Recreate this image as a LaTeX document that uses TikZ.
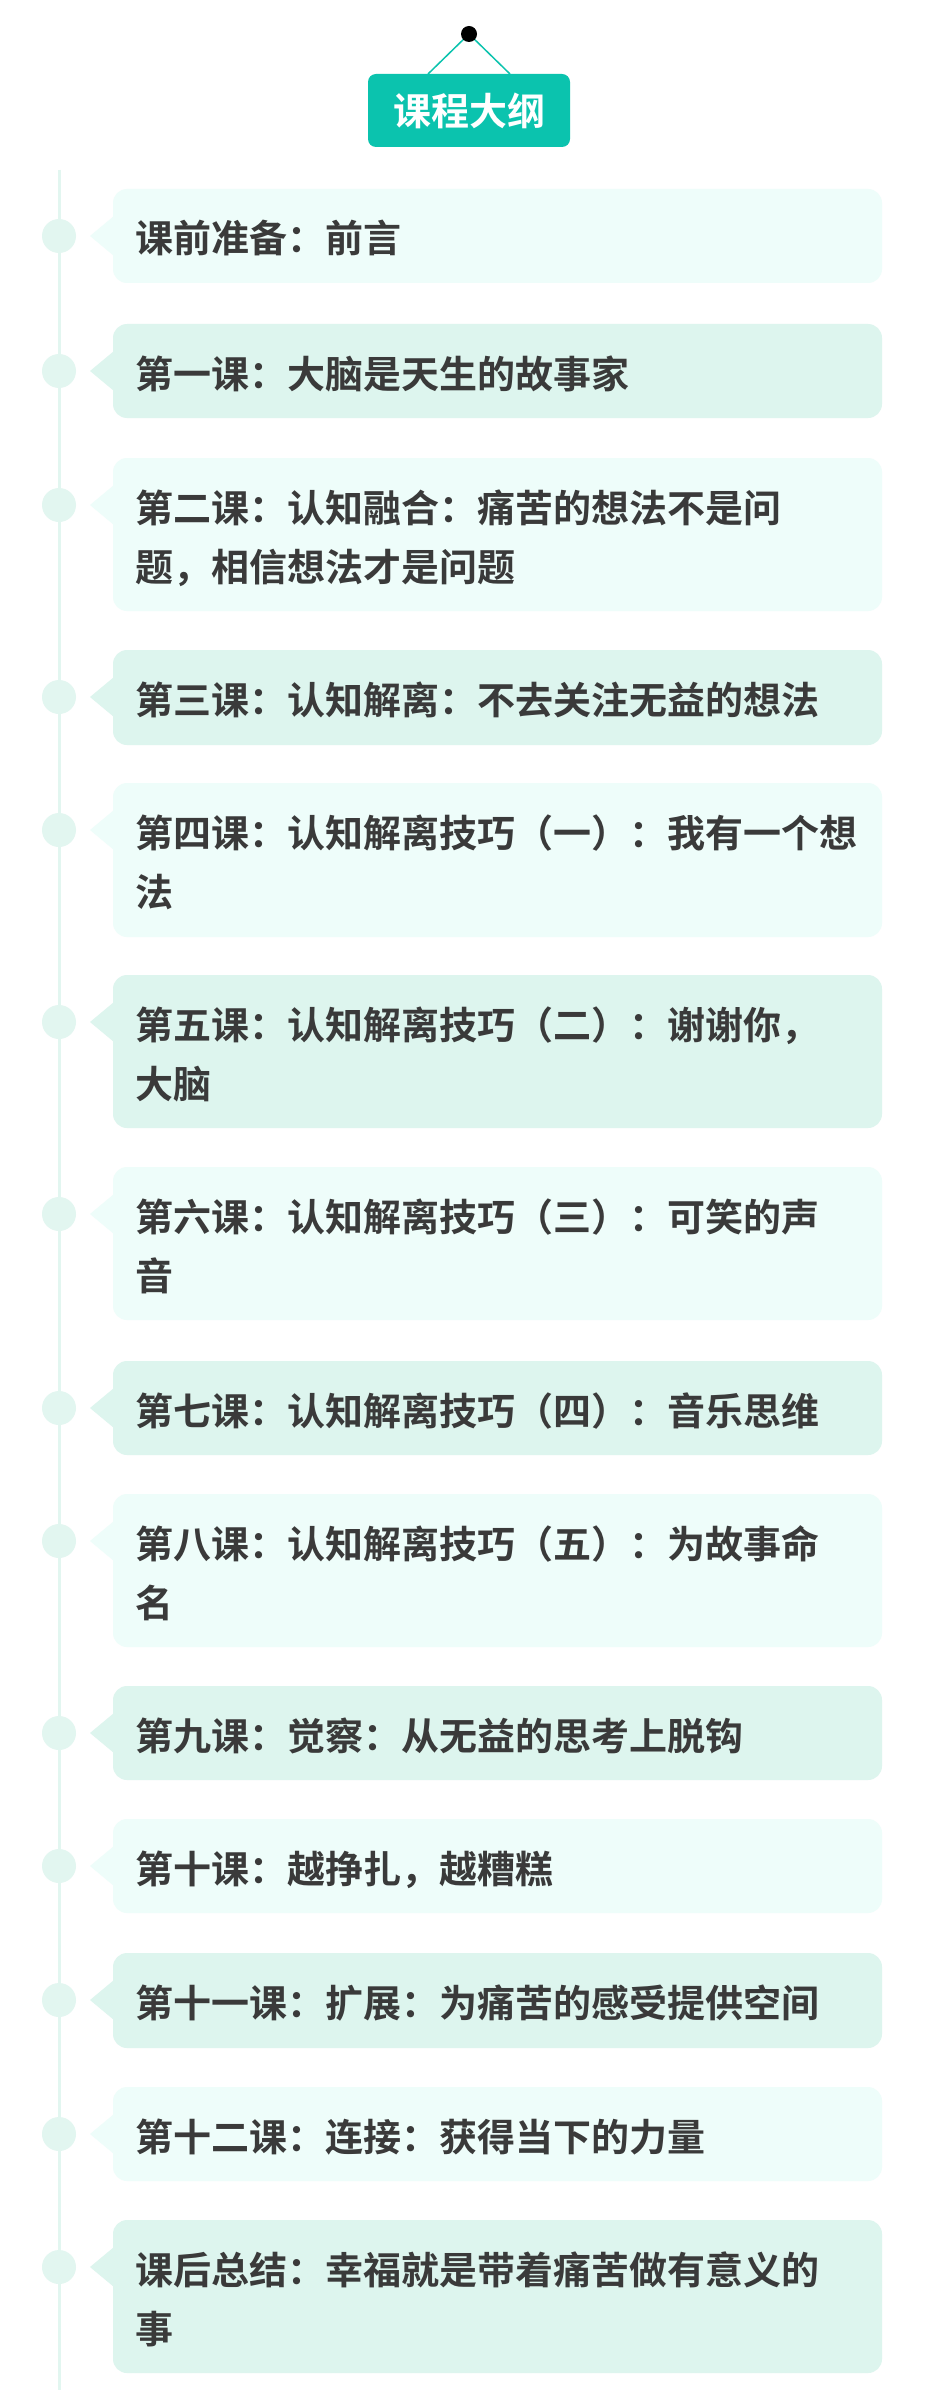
\documentclass[tikz,border=0pt]{standalone}
\usepackage{fontspec}
\newfontfamily\cjk{Noto Sans CJK SC Bold}
\definecolor{hdr}{HTML}{0BC3AE}
\definecolor{cA}{HTML}{EEFDFA}
\definecolor{cB}{HTML}{DDF5EE}
\definecolor{dotc}{HTML}{E2F6F0}
\definecolor{txt}{HTML}{3A3A3A}
\tikzset{
  cardtext/.style={anchor=base west, text width=740pt, align=left, font=\cjk\fontsize{38pt}{59pt}\selectfont, text=txt, inner sep=0pt},
  tdot/.style={circle, fill=dotc, minimum size=34pt, inner sep=0pt},
}
\newcommand\mycard[5]{% name, top, bottom, color, text
  \fill[#4, rounded corners=14pt] (113pt,-#2pt) rectangle (882pt,-#3pt);
  \pgfmathsetmacro\dy{#2+47}
  \fill[#4] (90pt,-\dy pt) -- (114pt,-\dy pt+20pt) -- (114pt,-\dy pt-20pt) -- cycle;
  \node[tdot] (d#1) at (59pt,-\dy pt) {};
  \node[cardtext] (t#1) at (135pt,-\dy pt-17pt) {#5};
}
\begin{document}
\begin{tikzpicture}[x=1pt,y=1pt]
\useasboundingbox[fill=white] (0,0) rectangle (929,-2405);
\draw[dotc, line width=3pt] (59,-170) -- (59,-2390);
% header
\coordinate (pin) at (469,-34);
\coordinate (sl) at (428,-74);
\coordinate (sr) at (510,-74);
\draw[hdr, line width=1.5pt] (sl) -- (pin) -- (sr);
\fill[black] (pin) circle (8);
\fill[hdr, rounded corners=8pt] (368,-74) rectangle (570,-147);
\node[font=\cjk\fontsize{38pt}{40pt}\selectfont, text=white] (title) at (469,-111) {课程大纲};
\mycard{1}{189}{283}{cA}{课前准备：前言}
\mycard{2}{324}{418}{cB}{第一课：大脑是天生的故事家}
\mycard{3}{458}{611}{cA}{第二课：认知融合：痛苦的想法不是问\\题，相信想法才是问题}
\mycard{4}{650}{745}{cB}{第三课：认知解离：不去关注无益的想法}
\mycard{5}{783}{937}{cA}{第四课：认知解离技巧（一）：我有一个想\\法}
\mycard{6}{975}{1128}{cB}{第五课：认知解离技巧（二）：谢谢你，\\大脑}
\mycard{7}{1167}{1320}{cA}{第六课：认知解离技巧（三）：可笑的声\\音}
\mycard{8}{1361}{1455}{cB}{第七课：认知解离技巧（四）：音乐思维}
\mycard{9}{1494}{1647}{cA}{第八课：认知解离技巧（五）：为故事命\\名}
\mycard{10}{1686}{1780}{cB}{第九课：觉察：从无益的思考上脱钩}
\mycard{11}{1819}{1913}{cA}{第十课：越挣扎，越糟糕}
\mycard{12}{1953}{2048}{cB}{第十一课：扩展：为痛苦的感受提供空间}
\mycard{13}{2087}{2181}{cA}{第十二课：连接：获得当下的力量}
\mycard{14}{2220}{2373}{cB}{课后总结：幸福就是带着痛苦做有意义的\\事}
\end{tikzpicture}
\end{document}
